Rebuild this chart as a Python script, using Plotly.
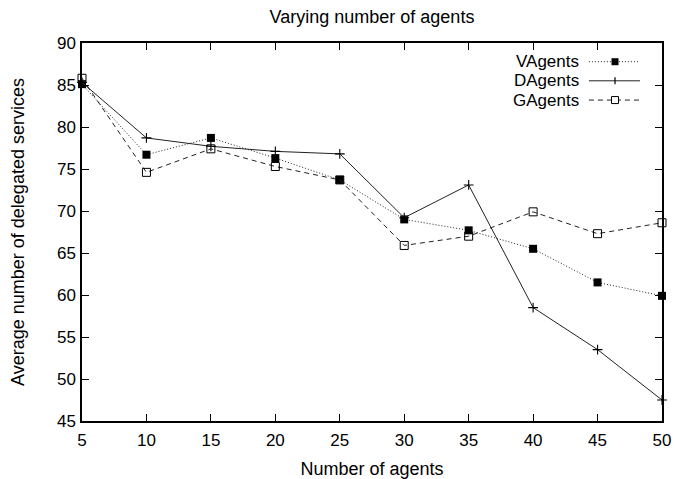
import plotly.graph_objects as go

agents = [5, 10, 15, 20, 25, 30, 35, 40, 45, 50]
vagents = [85.1, 76.7, 78.7, 76.3, 73.7, 69.0, 67.7, 65.5, 61.5, 59.9]
dagents = [85.3, 78.7, 77.7, 77.1, 76.8, 69.2, 73.1, 58.5, 53.5, 47.5]
gagents = [85.8, 74.6, 77.4, 75.3, 73.7, 65.9, 67.0, 69.9, 67.3, 68.6]
series_names = ["VAgents", "DAgents", "GAgents"]
x_ticks = [5, 10, 15, 20, 25, 30, 35, 40, 45, 50]
y_ticks = [45, 50, 55, 60, 65, 70, 75, 80, 85, 90]

FONT = "Liberation Sans, Arial, Helvetica, sans-serif"

styles = [
    dict(dash="1px,2px", symbol="square", msize=8, mline=0),
    dict(dash="solid", symbol="cross-thin", msize=7, mline=1.1),
    dict(dash="5px,4px", symbol="square-open", msize=8, mline=1),
]

fig = go.Figure()
for name, vals, st in zip(series_names, [vagents, dagents, gagents], styles):
    fig.add_trace(go.Scatter(
        x=agents, y=vals, name=name, mode="lines+markers",
        line=dict(color="#222222", width=1, dash=st["dash"]),
        marker=dict(symbol=st["symbol"], size=st["msize"], color="black",
                    line=dict(color="black", width=st["mline"])),
        cliponaxis=False, showlegend=False,
    ))

# legend emulation (gnuplot style: text left of sample)
leg_y = [0.9505, 0.900, 0.849]
for i, (name, st) in enumerate(zip(series_names, styles)):
    yy = leg_y[i]
    fig.add_annotation(xref="paper", yref="paper", x=0.857, y=yy, text=name,
                       showarrow=False, xanchor="right", yanchor="middle",
                       xshift=2,
                       font=dict(family=FONT, size=17, color="black"))
    fig.add_shape(type="line", xref="paper", yref="paper", x0=0.874, x1=0.962,
                  y0=yy, y1=yy, line=dict(color="#222222", width=1, dash=st["dash"]))
# legend markers
xc = 0.919
w = 3.5 / 580
h = 3.5 / 378
fig.add_shape(type="rect", xref="paper", yref="paper", x0=xc - w, x1=xc + w,
              y0=leg_y[0] - h, y1=leg_y[0] + h, fillcolor="black", line=dict(width=0))
fig.add_shape(type="line", xref="paper", yref="paper", x0=xc, x1=xc,
              y0=leg_y[1] - h, y1=leg_y[1] + h, line=dict(color="black", width=1.2))
fig.add_shape(type="rect", xref="paper", yref="paper", x0=xc - w, x1=xc + w,
              y0=leg_y[2] - h, y1=leg_y[2] + h, fillcolor="white",
              line=dict(color="black", width=1))

axis_common = dict(
    showline=True, linecolor="black", linewidth=1.5, mirror="allticks",
    ticks="inside", ticklen=7, tickwidth=1.3, tickcolor="black",
    showgrid=False, zeroline=False, automargin=False,
    tickfont=dict(family=FONT, size=17, color="black"),
)

fig.update_layout(
    width=675, height=479,
    margin=dict(l=82, r=13, t=43, b=58),
    paper_bgcolor="white", plot_bgcolor="white",
    title=dict(text="Varying number of agents", xref="paper", x=0.5, xanchor="center",
               y=0.966, yanchor="middle",
               font=dict(family=FONT, size=18, color="black")),
    xaxis=dict(range=[5, 50], tickvals=x_ticks, ticklabelstandoff=3,
               title=dict(text="Number of agents", standoff=13,
                          font=dict(family=FONT, size=18, color="black")),
               **axis_common),
    yaxis=dict(range=[45, 90], tickvals=y_ticks, ticklabelstandoff=1,
               title=dict(text="Average number of delegated services", standoff=28,
                          font=dict(family=FONT, size=18, color="black")),
               **axis_common),
)

fig.write_html("out.html")
